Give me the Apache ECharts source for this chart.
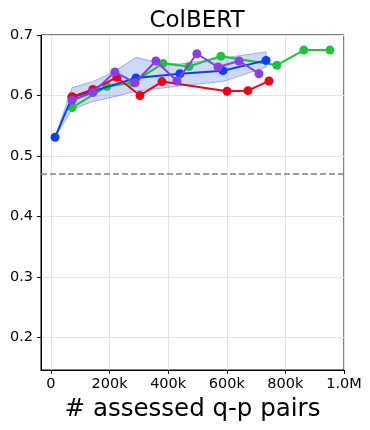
<!DOCTYPE html>
<html><head><meta charset="utf-8">
<script src="https://cdn.jsdelivr.net/npm/echarts@6/dist/echarts.min.js"></script>
<style>html,body{margin:0;padding:0;background:#fff}#c{width:370px;height:430px}</style>
</head><body><div id="c"></div>
<script>
const xTicks = [0, 200000, 400000, 600000, 800000, 1000000];
const xTickLabels = ['0', '200k', '400k', '600k', '800k', '1.0M'];
const yTicks = [0.2, 0.3, 0.4, 0.5, 0.6, 0.7];
const baseline = 0.472;

const blueX = [14000, 72000, 143000, 290000, 440000, 587000, 734000];
const blueY = [0.531, 0.597, 0.607, 0.629, 0.636, 0.641, 0.658];
const bandX = [14000, 72000, 143000, 218000, 290000, 360000, 440000, 587000, 734000];
const bandUpper = [0.531, 0.613, 0.623, 0.640, 0.663, 0.655, 0.652, 0.662, 0.672];
const bandLower = [0.531, 0.577, 0.590, 0.598, 0.607, 0.611, 0.616, 0.623, 0.647];

const redX = [72000, 143000, 225000, 304000, 379000, 601000, 672000, 744000];
const redY = [0.598, 0.610, 0.630, 0.600, 0.623, 0.607, 0.608, 0.624];

const greenX = [72000, 191000, 280000, 382000, 471000, 580000, 771000, 863000, 952000];
const greenY = [0.580, 0.615, 0.621, 0.653, 0.648, 0.665, 0.650, 0.675, 0.675];

const purpleX = [72000, 143000, 218000, 287000, 358000, 430000, 498000, 570000, 642000, 710000];
const purpleY = [0.592, 0.605, 0.639, 0.621, 0.657, 0.624, 0.669, 0.647, 0.657, 0.636];

const zip = (xs, ys) => xs.map((x, i) => [x, ys[i]]);
const bandPoly = zip(bandX, bandUpper).concat(zip(bandX, bandLower).reverse());

const chart = echarts.init(document.getElementById('c'), null, {renderer: 'canvas'});
const font = 'DejaVu Sans';
function lineSeries(name, xs, ys, color, z) {
  return {
    name, type: 'line', data: zip(xs, ys), z,
    symbol: 'circle', symbolSize: 9,
    lineStyle: {color, width: 2},
    itemStyle: {color},
    animation: false
  };
}
chart.setOption({
  animation: false,
  title: {
    text: 'ColBERT', left: 192, top: 5, textAlign: 'center',
    textStyle: {fontFamily: font, fontSize: 23, fontWeight: 'normal', color: '#000'}
  },
  grid: {left: 41, right: 26, top: 35, bottom: 60, show: true, borderColor: '#000', borderWidth: 1},
  xAxis: {
    type: 'value', min: -34000, max: 1000000,
    name: '# assessed q-p pairs', nameLocation: 'middle', nameGap: 25,
    nameTextStyle: {fontFamily: font, fontSize: 24.5, color: '#000'},
    axisLine: {show: true, onZero: false, lineStyle: {color: '#000', width: 1}},
    axisTick: {show: true, length: 4, lineStyle: {color: '#000'}, customValues: xTicks},
    axisLabel: {fontFamily: font, fontSize: 14.5, color: '#000', margin: 7, customValues: xTicks,
      formatter: v => xTickLabels[xTicks.indexOf(v)] ?? ''},
    splitLine: {show: true, lineStyle: {color: '#e3e3e3', width: 1}}
  },
  yAxis: {
    type: 'value', min: 0.146, max: 0.7,
    axisLine: {show: true, onZero: false, lineStyle: {color: '#000', width: 1}},
    axisTick: {show: true, length: 4, lineStyle: {color: '#000'}, customValues: yTicks},
    axisLabel: {fontFamily: font, fontSize: 14.5, color: '#000', margin: 8, customValues: yTicks,
      formatter: v => v.toFixed(1)},
    splitLine: {show: true, lineStyle: {color: '#e3e3e3', width: 1}}
  },
  series: [
    {
      type: 'custom', z: 1, silent: true,
      data: [0],
      renderItem: (params, api) => ({
        type: 'polygon',
        shape: {points: bandPoly.map(p => api.coord(p))},
        style: {fill: 'rgba(60,100,240,0.25)', stroke: 'rgba(60,100,240,0.45)', lineWidth: 1}
      })
    },
    {
      type: 'line', data: [], silent: true,
      markLine: {
        silent: true, symbol: 'none', animation: false,
        label: {show: false},
        lineStyle: {color: '#808080', type: [6, 3], width: 1.5},
        data: [{yAxis: baseline}]
      }
    },
    lineSeries('green', greenX, greenY, '#1fc23a', 3),
    lineSeries('blue', blueX, blueY, '#0a40f0', 4),
    lineSeries('red', redX, redY, '#ec0018', 5),
    lineSeries('purple', purpleX, purpleY, '#8a3fe2', 6)
  ]
});
</script></body></html>
